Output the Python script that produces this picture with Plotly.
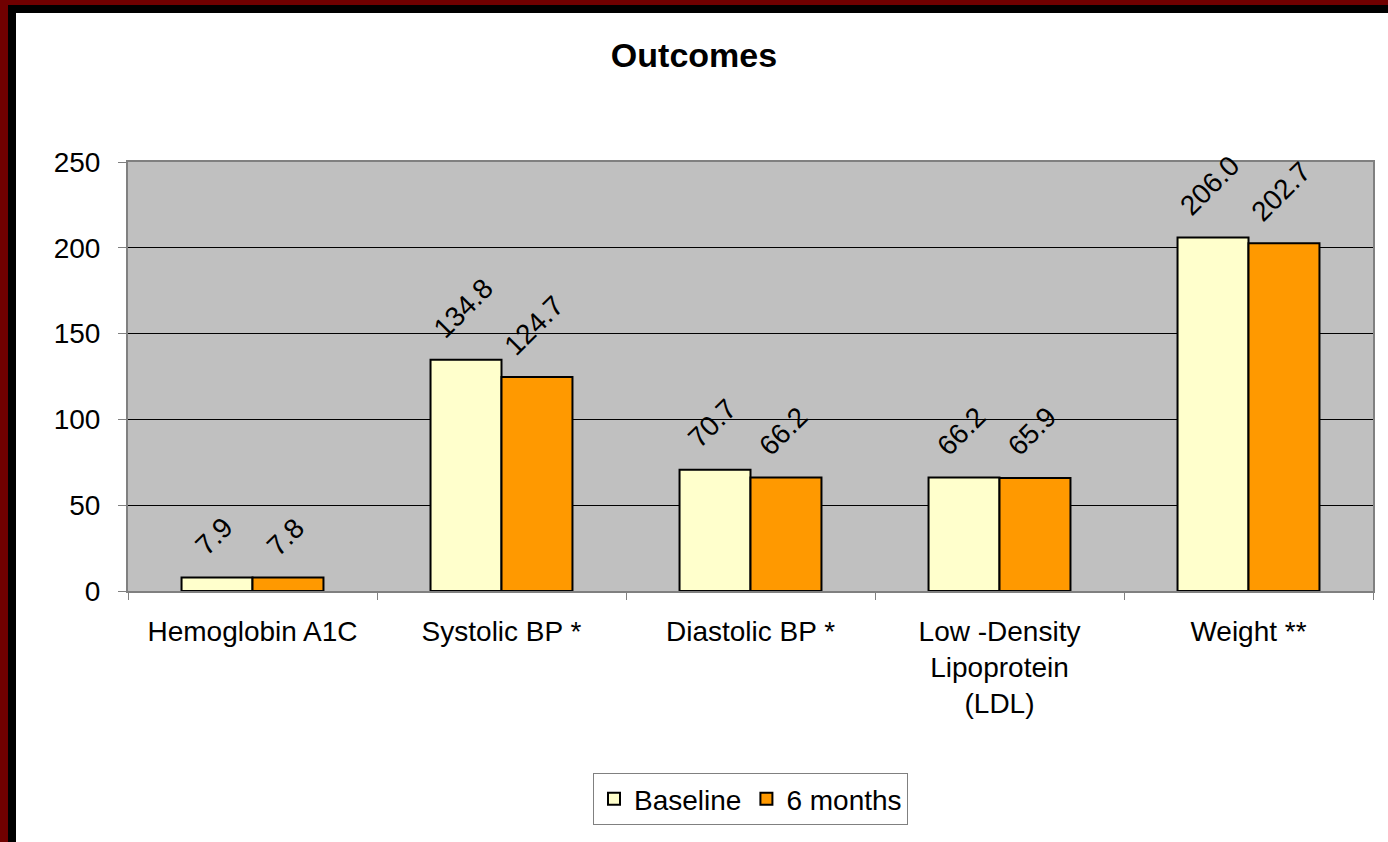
import plotly.graph_objects as go

categories = ["Hemoglobin A1C", "Systolic BP *", "Diastolic BP *",
              "Low -Density<br>Lipoprotein<br>(LDL)", "Weight **"]
baseline = [7.9, 134.8, 70.7, 66.2, 206.0]
six_months = [7.8, 124.7, 66.2, 65.9, 202.7]
y_ticks = [0, 50, 100, 150, 200, 250]

W, H = 1388, 842
L, R, T, B = 128, 15, 162, 251
pw, ph = W - L - R, H - T - B

def px(x):
    return (x - L) / pw

def py(y):
    return (H - B - y) / ph

FONT = "Liberation Sans, Arial, sans-serif"
FS = 28

fig = go.Figure()
fig.add_trace(go.Bar(
    x=categories, y=baseline, name="Baseline",
    marker=dict(color="#FFFFCC", line=dict(color="black", width=2)),
))
fig.add_trace(go.Bar(
    x=categories, y=six_months, name="6 months",
    marker=dict(color="#FF9900", line=dict(color="black", width=2)),
))

# rotated value labels above each bar
bar_half = 35.5
annotations = []
for series, shift in ((baseline, -bar_half), (six_months, bar_half)):
    for cat, val in zip(categories, series):
        annotations.append(dict(
            x=cat, y=val, xref="x", yref="y", text=f"{val:.1f}",
            showarrow=False, textangle=-45, xanchor="center", yanchor="bottom",
            xshift=shift - 3, yshift=13,
            font=dict(size=FS, family=FONT, color="black"),
        ))

shapes = [
    dict(type="rect", xref="paper", yref="paper", x0=px(0), x1=px(8), y0=py(H), y1=py(0),
         fillcolor="#700000", line=dict(width=0), layer="above"),
    dict(type="rect", xref="paper", yref="paper", x0=px(0), x1=px(W), y0=py(5), y1=py(0),
         fillcolor="#700000", line=dict(width=0), layer="above"),
    dict(type="rect", xref="paper", yref="paper", x0=px(8), x1=px(16), y0=py(H), y1=py(5),
         fillcolor="black", line=dict(width=0), layer="above"),
    dict(type="rect", xref="paper", yref="paper", x0=px(8), x1=px(W), y0=py(13), y1=py(5),
         fillcolor="black", line=dict(width=0), layer="above"),
]

fig.update_layout(
    width=W, height=H,
    margin=dict(l=L, r=R, t=T, b=B, pad=0),
    paper_bgcolor="white",
    plot_bgcolor="#C0C0C0",
    font=dict(family=FONT, size=FS, color="black"),
    title=dict(text="<b>Outcomes</b>", x=0.5, xanchor="center",
               y=1 - 55 / H, yanchor="middle",
               font=dict(size=34, family=FONT, color="black")),
    barmode="group",
    bargap=0.43,
    bargroupgap=0,
    showlegend=True,
    legend=dict(orientation="h", x=0.5, xanchor="center", y=py(773), yanchor="top",
                bgcolor="white", bordercolor="#808080", borderwidth=1,
                font=dict(size=FS, family=FONT, color="black"),
                traceorder="normal", itemwidth=30),
    shapes=shapes,
    annotations=annotations,
)
fig.update_xaxes(
    showgrid=False, showline=True, linecolor="#808080", linewidth=2, mirror=True,
    ticks="outside", ticklen=7, tickcolor="#808080", tickwidth=1, tickson="boundaries",
    tickfont=dict(size=FS, family=FONT, color="black"),
    ticklabelstandoff=14,
)
fig.update_yaxes(
    range=[0, 250], tickvals=y_ticks, showgrid=True, gridcolor="black", gridwidth=1,
    showline=True, linecolor="#808080", linewidth=2, mirror=True,
    ticks="outside", ticklen=8, tickcolor="#808080", tickwidth=1,
    tickfont=dict(size=FS, family=FONT, color="black"), zeroline=False,
    ticklabelstandoff=12,
)

fig.write_html("out.html", config={"displayModeBar": False},
               post_script="document.body.style.margin='0';document.body.style.overflow='hidden';")
